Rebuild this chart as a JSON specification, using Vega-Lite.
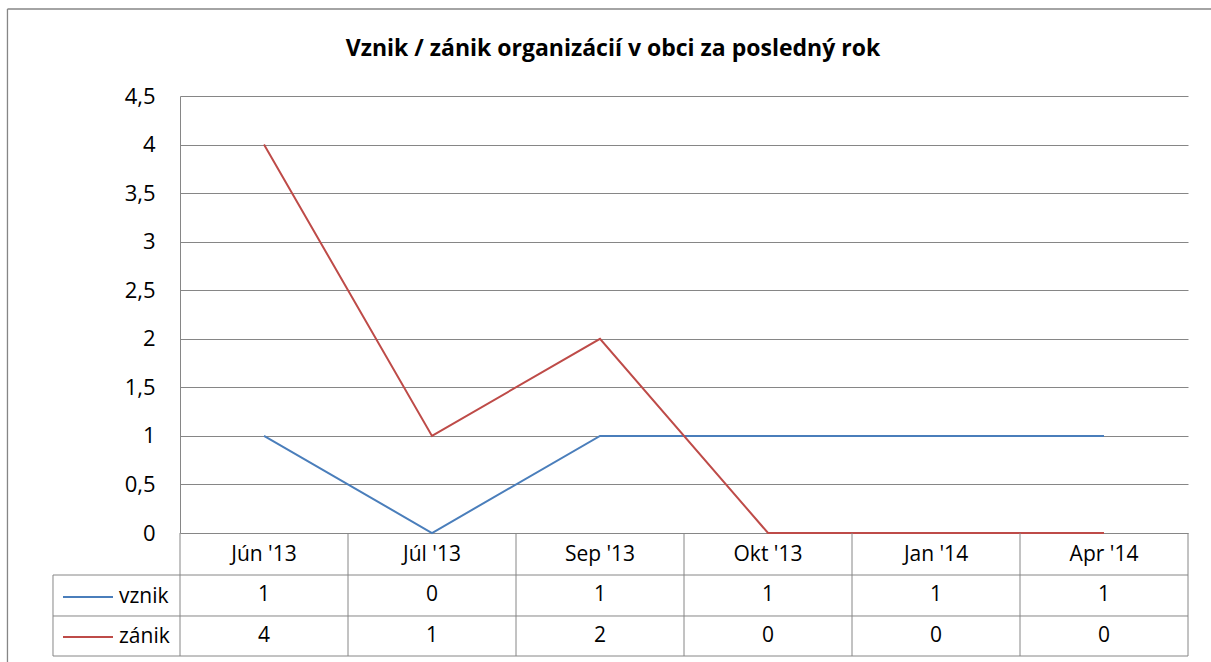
{
  "$schema": "https://vega.github.io/schema/vega-lite/v6.json",
  "width": 1008,
  "height": 437,
  "autosize": {"type": "none"},
  "padding": {"left": 180, "top": 96, "right": 23, "bottom": 129},
  "background": "white",
  "config": {
    "view": {"stroke": null},
    "font": "Open Sans",
    "text": {"font": "Open Sans"},
    "legend": {"labelFont": "Open Sans"},
    "axis": {"labelFont": "Open Sans"}
  },
  "title": {
    "text": "Vznik / zánik organizácií v obci za posledný rok",
    "font": "Open Sans",
    "fontSize": 23,
    "fontWeight": "bold",
    "color": "black",
    "anchor": "middle",
    "dx": -71,
    "baseline": "middle",
    "offset": -64
  },
  "datasets": {
    "t": [
      {"month": "Jún '13", "vznik": 1, "zánik": 4},
      {"month": "Júl '13", "vznik": 0, "zánik": 1},
      {"month": "Sep '13", "vznik": 1, "zánik": 2},
      {"month": "Okt '13", "vznik": 1, "zánik": 0},
      {"month": "Jan '14", "vznik": 1, "zánik": 0},
      {"month": "Apr '14", "vznik": 1, "zánik": 0}
    ]
  },
  "layer": [
    {
      "data": {"name": "t"},
      "transform": [{"fold": ["vznik", "zánik"], "as": ["series", "value"]}],
      "encoding": {
        "x": {
          "field": "month",
          "type": "nominal",
          "sort": null,
          "scale": {"type": "band", "paddingInner": 0, "paddingOuter": 0, "domain": ["Jún '13", "Júl '13", "Sep '13", "Okt '13", "Jan '14", "Apr '14"]},
          "axis": {"orient": "bottom", "title": null, "domain": false, "ticks": false, "grid": false, "labelFontSize": 21, "labelColor": "black", "labelAngle": 0, "labelBaseline": "middle", "labelPadding": 21}
        }
      },
      "layer": [
        {
          "mark": {"type": "line", "strokeWidth": 2},
          "encoding": {
            "y": {
              "field": "value",
              "type": "quantitative",
              "title": null,
              "scale": {"domain": [0, 4.5], "nice": false, "zero": false},
              "axis": {"values": [0, 0.5, 1, 1.5, 2, 2.5, 3, 3.5, 4, 4.5], "format": ".1~f", "labelExpr": "replace(datum.label, '.', ',')", "grid": true, "gridColor": "#868686", "gridWidth": 1, "domain": true, "domainColor": "#868686", "ticks": false, "labelFontSize": 22, "labelColor": "black", "labelPadding": 25}
            },
            "color": {
              "field": "series",
              "type": "nominal",
              "scale": {"domain": ["vznik", "zánik"], "range": ["#4A7EBB", "#BE4B48"]},
              "legend": {"orient": "none", "legendX": -118, "legendY": 475, "title": null, "symbolType": "stroke", "symbolSize": 2500, "symbolStrokeWidth": 2, "labelFontSize": 21, "labelColor": "black", "labelOffset": 5, "rowPadding": 4, "padding": 0}
            }
          }
        },
        {
          "transform": [{"filter": {"field": "series", "equal": "vznik"}}],
          "mark": {"type": "text", "fontSize": 21, "color": "black", "baseline": "middle"},
          "encoding": {
            "y": {"datum": -0.643, "type": "quantitative", "scale": {"domain": [0, 4.5], "nice": false, "zero": false}},
            "text": {"field": "value", "type": "quantitative"}
          }
        },
        {
          "transform": [{"filter": {"field": "series", "equal": "zánik"}}],
          "mark": {"type": "text", "fontSize": 21, "color": "black", "baseline": "middle"},
          "encoding": {
            "y": {"datum": -1.061, "type": "quantitative", "scale": {"domain": [0, 4.5], "nice": false, "zero": false}},
            "text": {"field": "value", "type": "quantitative"}
          }
        },
        {
          "transform": [{"filter": {"field": "series", "equal": "vznik"}}],
          "mark": {"type": "rule", "color": "#868686", "strokeWidth": 1},
          "encoding": {
            "x": {"field": "month", "type": "nominal", "sort": null, "bandPosition": 0},
            "y": {"datum": 0, "type": "quantitative", "scale": {"domain": [0, 4.5], "nice": false, "zero": false}},
            "y2": {"datum": -1.2666}
          }
        },
        {
          "transform": [{"filter": {"field": "month", "equal": "Apr '14"}}, {"filter": {"field": "series", "equal": "vznik"}}],
          "mark": {"type": "rule", "color": "#868686", "strokeWidth": 1},
          "encoding": {
            "x": {"field": "month", "type": "nominal", "sort": null, "bandPosition": 1},
            "y": {"datum": 0, "type": "quantitative", "scale": {"domain": [0, 4.5], "nice": false, "zero": false}},
            "y2": {"datum": -1.2666}
          }
        }
      ]
    },
    {
      "data": {"values": [{}]},
      "encoding": {},
      "layer": [
        {
          "mark": {"type": "rule", "color": "#868686", "strokeWidth": 1},
          "encoding": {
            "x": {"datum": -0.756, "type": "quantitative", "scale": {"domain": [0, 6], "nice": false, "zero": false}, "axis": null},
            "x2": {"datum": 6},
            "y": {"datum": -0.4325, "type": "quantitative", "scale": {"domain": [0, 4.5], "nice": false, "zero": false}, "axis": null}
          }
        },
        {
          "mark": {"type": "rule", "color": "#868686", "strokeWidth": 1},
          "encoding": {
            "x": {"datum": -0.756, "type": "quantitative", "scale": {"domain": [0, 6], "nice": false, "zero": false}, "axis": null},
            "x2": {"datum": 6},
            "y": {"datum": -0.8546, "type": "quantitative", "scale": {"domain": [0, 4.5], "nice": false, "zero": false}, "axis": null}
          }
        },
        {
          "mark": {"type": "rule", "color": "#868686", "strokeWidth": 1},
          "encoding": {
            "x": {"datum": -0.756, "type": "quantitative", "scale": {"domain": [0, 6], "nice": false, "zero": false}, "axis": null},
            "x2": {"datum": 6},
            "y": {"datum": -1.2666, "type": "quantitative", "scale": {"domain": [0, 4.5], "nice": false, "zero": false}, "axis": null}
          }
        },
        {
          "mark": {"type": "rule", "color": "#868686", "strokeWidth": 1},
          "encoding": {
            "x": {"datum": -0.756, "type": "quantitative", "scale": {"domain": [0, 6], "nice": false, "zero": false}, "axis": null},
            "y": {"datum": -0.4325, "type": "quantitative", "scale": {"domain": [0, 4.5], "nice": false, "zero": false}, "axis": null},
            "y2": {"datum": -1.2666}
          }
        },
        {
          "mark": {"type": "rule", "color": "#868686", "strokeWidth": 1.3},
          "encoding": {
            "x": {"datum": -1.027, "type": "quantitative", "scale": {"domain": [0, 6], "nice": false, "zero": false}, "axis": null},
            "x2": {"datum": 7},
            "y": {"datum": 5.396, "type": "quantitative", "scale": {"domain": [0, 4.5], "nice": false, "zero": false}, "axis": null}
          }
        },
        {
          "mark": {"type": "rule", "color": "#868686", "strokeWidth": 1.3},
          "encoding": {
            "x": {"datum": -1.027, "type": "quantitative", "scale": {"domain": [0, 6], "nice": false, "zero": false}, "axis": null},
            "y": {"datum": 5.396, "type": "quantitative", "scale": {"domain": [0, 4.5], "nice": false, "zero": false}, "axis": null},
            "y2": {"datum": -2}
          }
        }
      ]
    }
  ],
  "resolve": {"scale": {"x": "independent", "y": "independent"}}
}
